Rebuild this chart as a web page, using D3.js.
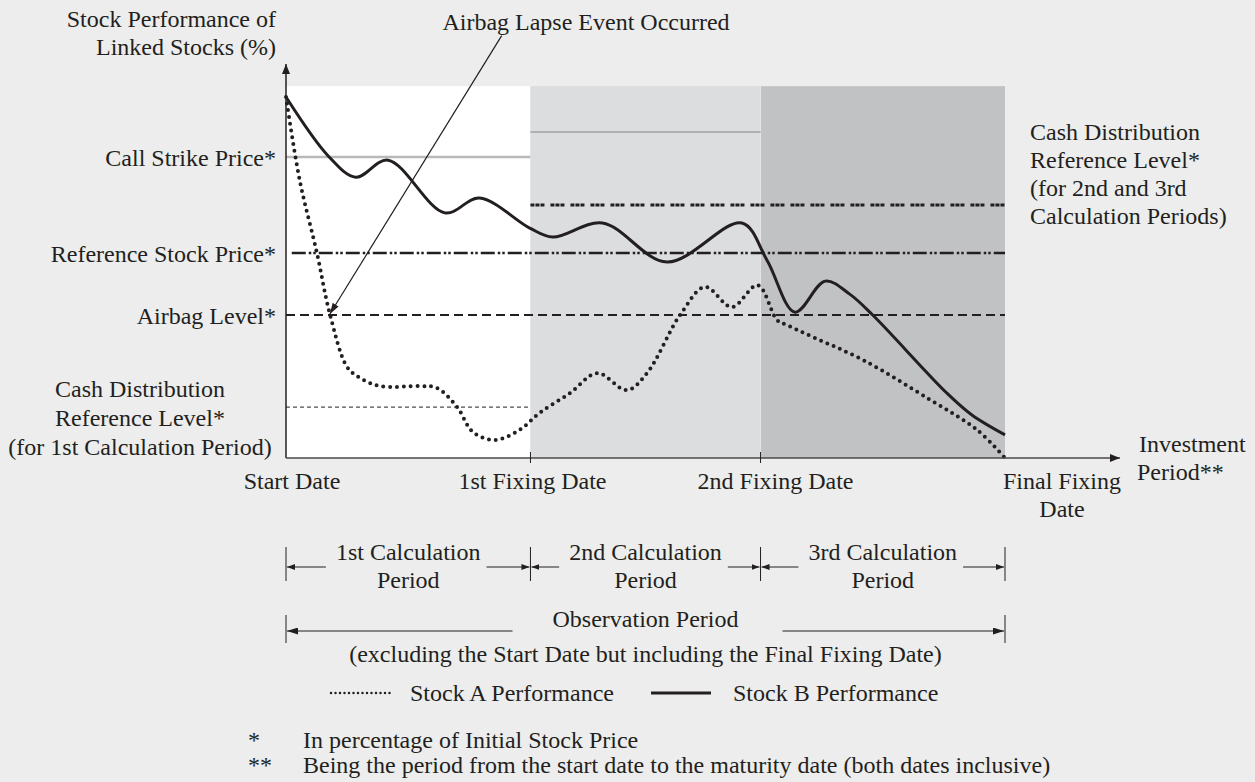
<!DOCTYPE html>
<html>
<head>
<meta charset="utf-8">
<script src="https://cdn.jsdelivr.net/npm/d3@7"></script>
<style>
  body { margin: 0; background: #ecedec; }
  svg text { font-family: "Liberation Serif", "Times New Roman", serif; font-size: 24px; fill: #231f20; }
</style>
</head>
<body>
<script>
const W = 1255, H = 782;

// time axis runs 0..100 from start date to final fixing date
const dateLabels = ["Start Date", "1st Fixing Date", "2nd Fixing Date", "Final Fixing"];
const dateT = [0, 34, 66, 100];
const periodNames = ["1st Calculation", "2nd Calculation", "3rd Calculation"];
const periodFill = ["#ffffff", "#dcdddf", "#c1c2c4"];

// levels, in % of initial stock price
const callStrike = [83.4, 90.3];   // 1st period, 2nd period
const cashRef1 = 14.1;
const cashRef23 = 70.1;
const refPrice = 56.8;
const airbag = 39.6;
const topLevel = 103;

// stock paths (time, %)
const stockA_t = [0, 1.9, 4.3, 6.1, 8.5, 10.3, 13.1, 18.6, 21.0, 23.8, 26.0, 29.1, 32.5, 35.3, 39.5, 43.3, 47.4, 50.2, 54.8, 58.3, 62.0, 65.6, 68.3, 69.7, 73.3, 80.3, 89.6, 96.1, 100];
const stockA_v = [100, 77.0, 56.8, 39.9, 25.2, 22.2, 19.9, 19.9, 19.4, 14.1, 7.2, 5.0, 7.8, 12.5, 18.0, 23.5, 18.8, 23.5, 39.6, 47.4, 41.8, 47.9, 38.2, 36.8, 33.5, 27.1, 16.1, 7.8, 0];
const stockB_t = [0, 6.0, 9.7, 14.2, 22.1, 26.9, 33.9, 37.1, 44.0, 53.0, 63.4, 66.9, 70.8, 75.0, 78.4, 81.6, 91.9, 95.4, 100];
const stockB_v = [100, 83.4, 77.8, 82.5, 67.9, 72.0, 63.7, 61.2, 65.1, 54.3, 65.1, 54.8, 40.4, 49.0, 45.4, 39.6, 18.0, 11.9, 6.4];

const svg = d3.select("body").append("svg")
    .attr("width", W)
    .attr("height", H);

const x = d3.scaleLinear().domain([0, 100]).range([286, 1005]);
const y = d3.scaleLinear().domain([0, 100]).range([458, 97]);

const defs = svg.append("defs");
function marker(id, len, wid) {
    defs.append("marker")
        .attr("id", id)
        .attr("markerUnits", "userSpaceOnUse")
        .attr("viewBox", `0 0 ${len} ${wid}`)
        .attr("refX", len).attr("refY", wid / 2)
        .attr("markerWidth", len).attr("markerHeight", wid)
        .attr("orient", "auto")
      .append("path")
        .attr("d", `M0,0L${len},${wid / 2}L0,${wid}Z`)
        .attr("fill", "#231f20");
}
marker("axisArrow", 10, 8);
marker("smallArrow", 11, 7);
marker("tinyArrow", 8, 6);

// shaded calculation periods
svg.selectAll("rect.period").data(d3.range(3)).join("rect")
    .attr("class", "period")
    .attr("x", i => x(dateT[i]))
    .attr("y", y(topLevel))
    .attr("width", i => x(dateT[i + 1]) - x(dateT[i]))
    .attr("height", i => y(0) - y(topLevel))
    .attr("fill", i => periodFill[i]);

svg.append("line")
    .attr("x1", x(dateT[2])).attr("x2", x(dateT[2]))
    .attr("y1", y(topLevel)).attr("y2", y(0))
    .attr("stroke", "#e6e6e6").attr("stroke-width", 1);

// level lines
const levels = [
    {t0: 0, t1: 34, v: callStrike[0], stroke: "#b9b9b9", w: 2.5, dash: null},
    {t0: 34, t1: 66, v: callStrike[1], stroke: "#b0b0b0", w: 2, dash: null},
    {t0: 34, t1: 100, v: cashRef23, stroke: "#231f20", w: 3, dash: "4,1,4,1,4,6"},
    {t0: 0.8, t1: 100, v: refPrice, stroke: "#231f20", w: 2.5, dash: "14,3,2.5,2,2.5,3"},
    {t0: 0, t1: 100, v: airbag, stroke: "#231f20", w: 2, dash: "9,5"},
    {t0: 0, t1: 34, v: cashRef1, stroke: "#231f20", w: 1, dash: "4,3"}
];
svg.selectAll("line.level").data(levels).join("line")
    .attr("class", "level")
    .attr("x1", d => x(d.t0)).attr("x2", d => x(d.t1))
    .attr("y1", d => y(d.v)).attr("y2", d => y(d.v))
    .attr("stroke", d => d.stroke)
    .attr("stroke-width", d => d.w)
    .attr("stroke-dasharray", d => d.dash);

// stock lines
const line = d3.line()
    .x(d => x(d[0]))
    .y(d => y(d[1]))
    .curve(d3.curveCatmullRom.alpha(0.5));

svg.append("path")
    .datum(d3.zip(stockA_t, stockA_v))
    .attr("d", line)
    .attr("fill", "none")
    .attr("stroke", "#231f20")
    .attr("stroke-width", 4)
    .attr("stroke-linecap", "round")
    .attr("stroke-dasharray", "0,6.8");

svg.append("path")
    .datum(d3.zip(stockB_t, stockB_v))
    .attr("d", line)
    .attr("fill", "none")
    .attr("stroke", "#231f20")
    .attr("stroke-width", 3);

// axes
svg.append("line")
    .attr("x1", x(0)).attr("x2", x(0))
    .attr("y1", y(0)).attr("y2", 64)
    .attr("stroke", "#231f20").attr("stroke-width", 1.5)
    .attr("marker-end", "url(#axisArrow)");
svg.append("line")
    .attr("x1", x(0)).attr("x2", 1120)
    .attr("y1", y(0)).attr("y2", y(0))
    .attr("stroke", "#4a4a4a").attr("stroke-width", 1.5)
    .attr("marker-end", "url(#axisArrow)");
svg.selectAll("line.tick").data(dateT.slice(1, 3)).join("line")
    .attr("class", "tick")
    .attr("x1", d => x(d)).attr("x2", d => x(d))
    .attr("y1", y(0) - 6).attr("y2", y(0) + 5)
    .attr("stroke", "#231f20").attr("stroke-width", 1);

// x labels
const xOff = [6, 2, 15, 57];
svg.selectAll("text.xlab").data(dateLabels).join("text")
    .attr("class", "xlab")
    .attr("x", (d, i) => x(dateT[i]) + xOff[i])
    .attr("y", 489)
    .attr("text-anchor", "middle")
    .text(d => d);
svg.append("text").attr("x", x(100) + 57).attr("y", 517)
    .attr("text-anchor", "middle").text("Date");
svg.append("text").attr("x", 1139).attr("y", 452).text("Investment");
svg.append("text").attr("x", 1137).attr("y", 480).text("Period**");

// y labels
svg.append("text").attr("x", 276).attr("y", 27).attr("text-anchor", "end").text("Stock Performance of");
svg.append("text").attr("x", 276).attr("y", 55).attr("text-anchor", "end").text("Linked Stocks (%)");
const yLabels = [["Call Strike Price*", callStrike[0]], ["Reference Stock Price*", refPrice], ["Airbag Level*", airbag]];
svg.selectAll("text.ylab").data(yLabels).join("text")
    .attr("class", "ylab")
    .attr("x", 276)
    .attr("y", d => y(d[1]) + 9)
    .attr("text-anchor", "end")
    .text(d => d[0]);
["Cash Distribution", "Reference Level*", "(for 1st Calculation Period)"].forEach((s, i) => {
    svg.append("text").attr("x", 140).attr("y", y(cashRef1) - 10 + i * 29)
        .attr("text-anchor", "middle").text(s);
});
["Cash Distribution", "Reference Level*", "(for 2nd and 3rd", "Calculation Periods)"].forEach((s, i) => {
    svg.append("text").attr("x", 1030).attr("y", 140 + i * 28).text(s);
});

// airbag lapse annotation
svg.append("text").attr("x", 586).attr("y", 30).attr("text-anchor", "middle").text("Airbag Lapse Event Occurred");
svg.append("line")
    .attr("x1", x(30)).attr("y1", y(117))
    .attr("x2", x(6.1)).attr("y2", y(airbag) - 1)
    .attr("stroke", "#231f20").attr("stroke-width", 1.2)
    .attr("marker-end", "url(#smallArrow)");

// calculation period row
const rowY = 567;
svg.selectAll("line.bar").data(dateT).join("line")
    .attr("class", "bar")
    .attr("x1", d => x(d)).attr("x2", d => x(d))
    .attr("y1", rowY - 20).attr("y2", rowY + 14)
    .attr("stroke", "#231f20").attr("stroke-width", 1);
periodNames.forEach((name, i) => {
    const a = x(dateT[i]), b = x(dateT[i + 1]), m = (a + b) / 2;
    const t = svg.append("text").attr("x", m).attr("y", rowY - 7)
        .attr("text-anchor", "middle").text(name);
    svg.append("text").attr("x", m).attr("y", rowY + 21)
        .attr("text-anchor", "middle").text("Period");
    const tw = t.node().getComputedTextLength();
    svg.append("line")
        .attr("x1", m - tw / 2 - 10).attr("x2", a + 1)
        .attr("y1", rowY).attr("y2", rowY)
        .attr("stroke", "#231f20").attr("stroke-width", 1)
        .attr("marker-end", "url(#tinyArrow)");
    svg.append("line")
        .attr("x1", m + tw / 2 + 6).attr("x2", b - 1)
        .attr("y1", rowY).attr("y2", rowY)
        .attr("stroke", "#231f20").attr("stroke-width", 1)
        .attr("marker-end", "url(#tinyArrow)");
});

// observation period row
const obsY = 631;
[0, 100].forEach(d => {
    svg.append("line")
        .attr("x1", x(d)).attr("x2", x(d))
        .attr("y1", obsY - 16).attr("y2", obsY + 12)
        .attr("stroke", "#231f20").attr("stroke-width", 1);
});
const mid = (x(0) + x(100)) / 2;
const obs = svg.append("text").attr("x", mid).attr("y", obsY - 4)
    .attr("text-anchor", "middle").text("Observation Period");
const ow = obs.node().getComputedTextLength();
svg.append("line")
    .attr("x1", mid - ow / 2 - 40).attr("x2", x(0) + 1)
    .attr("y1", obsY).attr("y2", obsY)
    .attr("stroke", "#231f20").attr("stroke-width", 1)
    .attr("marker-end", "url(#smallArrow)");
svg.append("line")
    .attr("x1", mid + ow / 2 + 44).attr("x2", x(100) - 1)
    .attr("y1", obsY).attr("y2", obsY)
    .attr("stroke", "#231f20").attr("stroke-width", 1)
    .attr("marker-end", "url(#smallArrow)");
svg.append("text").attr("x", mid).attr("y", obsY + 31)
    .attr("text-anchor", "middle")
    .text("(excluding the Start Date but including the Final Fixing Date)");

// legend
const legY = 693;
svg.append("line")
    .attr("x1", 331).attr("x2", 394).attr("y1", legY).attr("y2", legY)
    .attr("stroke", "#231f20").attr("stroke-width", 2.5)
    .attr("stroke-linecap", "round").attr("stroke-dasharray", "0,4.5");
svg.append("text").attr("x", 410).attr("y", legY + 8).text("Stock A Performance");
svg.append("line")
    .attr("x1", 651).attr("x2", 711).attr("y1", legY).attr("y2", legY)
    .attr("stroke", "#231f20").attr("stroke-width", 3);
svg.append("text").attr("x", 733).attr("y", legY + 8).text("Stock B Performance");

// footnotes
svg.append("text").attr("x", 248).attr("y", 748).text("*");
svg.append("text").attr("x", 303).attr("y", 748).text("In percentage of Initial Stock Price");
svg.append("text").attr("x", 248).attr("y", 773).text("**");
svg.append("text").attr("x", 303).attr("y", 773).text("Being the period from the start date to the maturity date (both dates inclusive)");
</script>
</body>
</html>
